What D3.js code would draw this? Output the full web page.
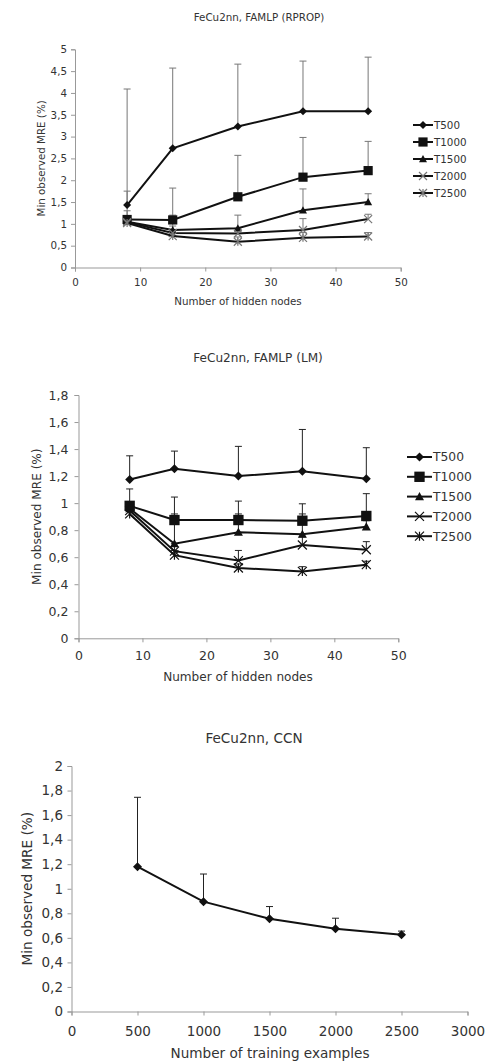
<!DOCTYPE html>
<html><head><meta charset="utf-8">
<script src="https://cdn.jsdelivr.net/npm/d3@7"></script>
<style>
html,body{margin:0;padding:0;background:#fff;}
svg{display:block;}
text{font-family:"DejaVu Sans",Verdana,sans-serif;fill:#333;}
</style></head><body>
<svg id="c" width="487" height="1061"></svg>
<script>
// ---------- DATA ----------
const hiddenNodes = [8, 15, 25, 35, 45];
const seriesNames = ["T500", "T1000", "T1500", "T2000", "T2500"];

// Chart 1: FAMLP (RPROP)
const rpropT500  = [1.43, 2.73, 3.23, 3.58, 3.58];
const rpropT1000 = [1.10, 1.09, 1.62, 2.07, 2.22];
const rpropT1500 = [1.05, 0.86, 0.90, 1.31, 1.50];
const rpropT2000 = [1.04, 0.79, 0.78, 0.86, 1.11];
const rpropT2500 = [1.02, 0.72, 0.59, 0.68, 0.71];
const rpropT500Up  = [4.09, 4.57, 4.66, 4.73, 4.82];
const rpropT1000Up = [1.75, 1.82, 2.57, 2.98, 2.89];
const rpropT1500Up = [1.30, 1.20, 1.20, 1.80, 1.69];
const rpropT2000Up = [1.15, 0.95, 0.90, 1.12, 1.22];
const rpropT2500Up = [1.10, 0.80, 0.70, 0.80, 0.80];

// Chart 2: FAMLP (LM)
const lmT500  = [1.175, 1.255, 1.20, 1.235, 1.18];
const lmT1000 = [0.98, 0.875, 0.875, 0.87, 0.905];
const lmT1500 = [0.96, 0.70, 0.785, 0.77, 0.825];
const lmT2000 = [0.945, 0.645, 0.575, 0.69, 0.655];
const lmT2500 = [0.92, 0.615, 0.52, 0.495, 0.545];
const lmT500Up  = [1.35, 1.385, 1.42, 1.545, 1.41];
const lmT1000Up = [1.105, 1.045, 1.015, 0.995, 1.07];
const lmT1500Up = [1.00, 0.92, 0.92, 0.92, 0.87];
const lmT2000Up = [0.97, 0.70, 0.65, 0.75, 0.715];
const lmT2500Up = [0.95, 0.65, 0.55, 0.53, 0.57];

// Chart 3: CCN
const trainingExamples = [500, 1000, 1500, 2000, 2500];
const ccnValues = [1.18, 0.895, 0.755, 0.675, 0.625];
const ccnUp     = [1.745, 1.12, 0.855, 0.76, 0.655];

// Tick labels
const ticksHidden = [0, 10, 20, 30, 40, 50];
const ticksRpropY = [0, 0.5, 1, 1.5, 2, 2.5, 3, 3.5, 4, 4.5, 5];
const ticksLmY = [0, 0.2, 0.4, 0.6, 0.8, 1, 1.2, 1.4, 1.6, 1.8];
const ticksTraining = [0, 500, 1000, 1500, 2000, 2500, 3000];
const ticksCcnY = [0, 0.2, 0.4, 0.6, 0.8, 1, 1.2, 1.4, 1.6, 1.8, 2];

const titles = ["FeCu2nn, FAMLP (RPROP)", "FeCu2nn, FAMLP (LM)", "FeCu2nn, CCN"];
const yTitle = "Min observed MRE (%)";
const xTitles = ["Number of hidden nodes", "Number of hidden nodes", "Number of training examples"];
const markers = ["diamond", "square", "triangle", "cross", "asterisk"];

// ---------- DRAW ----------
const svg = d3.select("#c");
const fmt = d => String(d).replace(".", ",");

function drawMarker(g, type, x, y, s, color) {
  if (type === "diamond") {
    g.append("path").attr("d", `M${x},${y-s}L${x+s},${y}L${x},${y+s}L${x-s},${y}Z`).attr("fill", color);
  } else if (type === "square") {
    g.append("rect").attr("x", x-s).attr("y", y-s).attr("width", 2*s).attr("height", 2*s).attr("fill", color);
  } else if (type === "triangle") {
    g.append("path").attr("d", `M${x},${y-s}L${x+s},${y+s*0.8}L${x-s},${y+s*0.8}Z`).attr("fill", color);
  } else if (type === "cross") {
    g.append("path").attr("d", `M${x-s},${y-s}L${x+s},${y+s}M${x-s},${y+s}L${x+s},${y-s}`).attr("stroke", color).attr("stroke-width", 1.2);
  } else if (type === "asterisk") {
    g.append("path").attr("d", `M${x-s},${y-s}L${x+s},${y+s}M${x-s},${y+s}L${x+s},${y-s}M${x},${y-s}L${x},${y+s}`).attr("stroke", color).attr("stroke-width", 1.2);
  }
}

function drawChart(cfg) {
  const g = svg.append("g");
  const x = d3.scaleLinear().domain(cfg.xDomain).range([cfg.x0, cfg.x1]);
  const y = d3.scaleLinear().domain(cfg.yDomain).range([cfg.y0, cfg.y1]);

  const xa = g.append("g").attr("transform", `translate(0,${cfg.y0})`)
    .call(d3.axisBottom(x).tickValues(cfg.xTicks).tickFormat(fmt).tickSize(cfg.tick).tickPadding(cfg.xPad));
  const ya = g.append("g").attr("transform", `translate(${cfg.x0},0)`)
    .call(d3.axisLeft(y).tickValues(cfg.yTicks).tickFormat(fmt).tickSize(cfg.tick).tickPadding(cfg.yPad));
  [xa, ya].forEach(a => {
    a.select(".domain").attr("stroke", "#999").attr("stroke-width", 1);
    a.selectAll(".tick line").attr("stroke", "#999");
    a.selectAll(".tick text").style("font-size", cfg.fs + "px").attr("fill", "#333")
      .style("font-family", '"DejaVu Sans",Verdana,sans-serif');
  });

  g.append("text").attr("x", cfg.titleX).attr("y", cfg.titleY).attr("text-anchor", "middle")
    .style("font-size", cfg.tfs + "px").text(cfg.title);
  g.append("text").attr("x", cfg.xTitleX).attr("y", cfg.xTitleY).attr("text-anchor", "middle")
    .style("font-size", cfg.tfs + "px").text(cfg.xTitle);
  g.append("text").attr("transform", `translate(${cfg.yTitleX},${(cfg.y0+cfg.y1)/2}) rotate(-90)`)
    .attr("text-anchor", "middle").style("font-size", cfg.tfs + "px").text(yTitle);

  const line = d3.line().x(d => x(d[0])).y(d => y(d[1]));

  cfg.series.forEach(s => {
    s.values.forEach((v, i) => {
      const xv = x(cfg.xs[i]);
      g.append("line").attr("x1", xv).attr("x2", xv).attr("y1", y(v)).attr("y2", y(s.up[i]))
        .attr("stroke", cfg.errColor).attr("stroke-width", cfg.errW);
      g.append("line").attr("x1", xv - cfg.cap).attr("x2", xv + cfg.cap).attr("y1", y(s.up[i])).attr("y2", y(s.up[i]))
        .attr("stroke", cfg.errColor).attr("stroke-width", cfg.errW);
    });
  });
  cfg.series.forEach(s => {
    g.append("path").datum(s.values.map((v, i) => [cfg.xs[i], v]))
      .attr("d", line).attr("fill", "none").attr("stroke", "#111").attr("stroke-width", 2);
    s.values.forEach((v, i) => drawMarker(g, s.marker, x(cfg.xs[i]), y(v), cfg.ms * (s.marker === "square" ? 1.15 : 1), s.mcolor || "#111"));
  });

  if (cfg.legend) {
    cfg.series.forEach((s, k) => {
      const ly = cfg.legY + k * cfg.legStep;
      g.append("line").attr("x1", cfg.legX).attr("x2", cfg.legX + cfg.legLen).attr("y1", ly).attr("y2", ly)
        .attr("stroke", "#111").attr("stroke-width", 2);
      drawMarker(g, s.marker, cfg.legX + cfg.legLen / 2, ly, cfg.ms * (s.marker === "square" ? 1.15 : 1), s.mcolor || "#111");
      g.append("text").attr("x", cfg.legX + cfg.legLen + 1).attr("y", ly).attr("dy", "0.36em")
        .style("font-size", cfg.lfs + "px").text(s.name);
    });
  }
}

drawChart({
  title: titles[0], xTitle: xTitles[0],
  xDomain: [0, 50], yDomain: [0, 5], x0: 75, x1: 400.7, y0: 267.5, y1: 49.3,
  xTicks: ticksHidden, yTicks: ticksRpropY, tick: 4, xPad: 7, yPad: 4, fs: 10.3, tfs: 10.3, lfs: 10.3,
  titleX: 259, titleY: 20.5, xTitleX: 238, xTitleY: 304.5, yTitleX: 44.5,
  xs: hiddenNodes, errColor: "#777", errW: 1, cap: 3.5, ms: 4,
  legend: true, legX: 413, legLen: 20, legY: 125, legStep: 17,
  series: [
    {name: seriesNames[0], values: rpropT500, up: rpropT500Up, marker: markers[0]},
    {name: seriesNames[1], values: rpropT1000, up: rpropT1000Up, marker: markers[1]},
    {name: seriesNames[2], values: rpropT1500, up: rpropT1500Up, marker: markers[2]},
    {name: seriesNames[3], values: rpropT2000, up: rpropT2000Up, marker: markers[3], mcolor: "#777"},
    {name: seriesNames[4], values: rpropT2500, up: rpropT2500Up, marker: markers[4], mcolor: "#777"}
  ]
});

drawChart({
  title: titles[1], xTitle: xTitles[1],
  xDomain: [0, 50], yDomain: [0, 1.8], x0: 78.5, x1: 398.3, y0: 638.3, y1: 395,
  xTicks: ticksHidden, yTicks: ticksLmY, tick: 4, xPad: 9, yPad: 6, fs: 12.5, tfs: 12.1, lfs: 12.3,
  titleX: 258, titleY: 361.5, xTitleX: 238, xTitleY: 680.5, yTitleX: 40.5,
  xs: hiddenNodes, errColor: "#222", errW: 1, cap: 3.5, ms: 4.5,
  legend: true, legX: 407, legLen: 25, legY: 457, legStep: 19.8,
  series: [
    {name: seriesNames[0], values: lmT500, up: lmT500Up, marker: markers[0]},
    {name: seriesNames[1], values: lmT1000, up: lmT1000Up, marker: markers[1]},
    {name: seriesNames[2], values: lmT1500, up: lmT1500Up, marker: markers[2]},
    {name: seriesNames[3], values: lmT2000, up: lmT2000Up, marker: markers[3]},
    {name: seriesNames[4], values: lmT2500, up: lmT2500Up, marker: markers[4]}
  ]
});

drawChart({
  title: titles[2], xTitle: xTitles[2],
  xDomain: [0, 3000], yDomain: [0, 2], x0: 71.5, x1: 467.5, y0: 1011.5, y1: 766,
  xTicks: ticksTraining, yTicks: ticksCcnY, tick: 4, xPad: 10.5, yPad: 4.5, fs: 13.5, tfs: 13.6, lfs: 13,
  titleX: 254, titleY: 743, xTitleX: 270, xTitleY: 1058, yTitleX: 31.5,
  xs: trainingExamples, errColor: "#222", errW: 1, cap: 3.5, ms: 4.5,
  legend: false,
  series: [
    {name: "CCN", values: ccnValues, up: ccnUp, marker: markers[0]}
  ]
});
</script>
</body></html>
